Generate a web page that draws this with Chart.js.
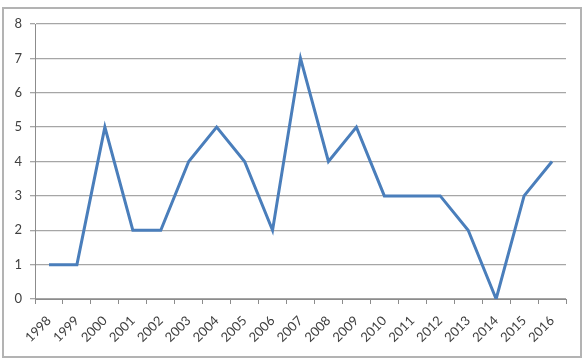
<!DOCTYPE html>
<html>
<head>
<meta charset="utf-8">
<script src="https://cdn.jsdelivr.net/npm/chart.js@4"></script>
<style>
  html, body { margin: 0; padding: 0; background: #fff; }
  #wrap { position: relative; width: 584px; height: 360px; }
</style>
</head>
<body>
<div id="wrap"><canvas id="chart" width="584" height="360"></canvas></div>
<script>
const years = ['1998', '1999', '2000', '2001', '2002', '2003', '2004', '2005', '2006', '2007',
               '2008', '2009', '2010', '2011', '2012', '2013', '2014', '2015', '2016'];
const values = [1, 1, 5, 2, 2, 4, 5, 4, 2, 7, 4, 5, 3, 3, 3, 2, 0, 3, 4];
const yTicks = [0, 1, 2, 3, 4, 5, 6, 7, 8];

// outer frame like the spreadsheet chart box
const framePlugin = {
  id: 'frame',
  beforeDraw(chart) {
    const ctx = chart.ctx;
    ctx.save();
    ctx.fillStyle = '#ffffff';
    ctx.fillRect(0, 0, chart.width, chart.height);
    ctx.strokeStyle = '#b3b3b3';
    ctx.lineWidth = 2;
    ctx.strokeRect(3, 8, 578, 349);
    ctx.restore();
  }
};

const ctx = document.getElementById('chart').getContext('2d');
new Chart(ctx, {
  type: 'line',
  data: {
    labels: years,
    datasets: [{
      data: values,
      borderColor: '#4a7ebb',
      borderWidth: 3,
      pointRadius: 0,
      tension: 0,
      fill: false
    }]
  },
  options: {
    responsive: false,
    animation: false,
    layout: { padding: { left: 0, right: 18, top: 24, bottom: 0 } },
    plugins: { legend: { display: false }, tooltip: { enabled: false } },
    scales: {
      x: {
        offset: true,
        grid: { offset: true, drawOnChartArea: false, drawTicks: true, tickLength: 5, color: '#8c8c8c' },
        border: { color: '#8c8c8c', width: 1 },
        ticks: {
          minRotation: 45, maxRotation: 45, autoSkip: false,
          color: '#404040', font: { family: 'Lato', size: 13 }, padding: 9
        },
        afterFit(scale) { scale.height = 61; }
      },
      y: {
        min: 0, max: 8,
        afterBuildTicks(scale) { scale.ticks = yTicks.map(v => ({ value: v })); },
        grid: { color: '#a6a6a6', tickLength: 5, lineWidth: 1.3 },
        border: { color: '#8c8c8c', width: 1 },
        ticks: { color: '#404040', font: { family: 'Lato', size: 13 }, padding: 8 },
        afterFit(scale) { scale.width = 35; }
      }
    }
  },
  plugins: [framePlugin]
});
</script>
</body>
</html>
